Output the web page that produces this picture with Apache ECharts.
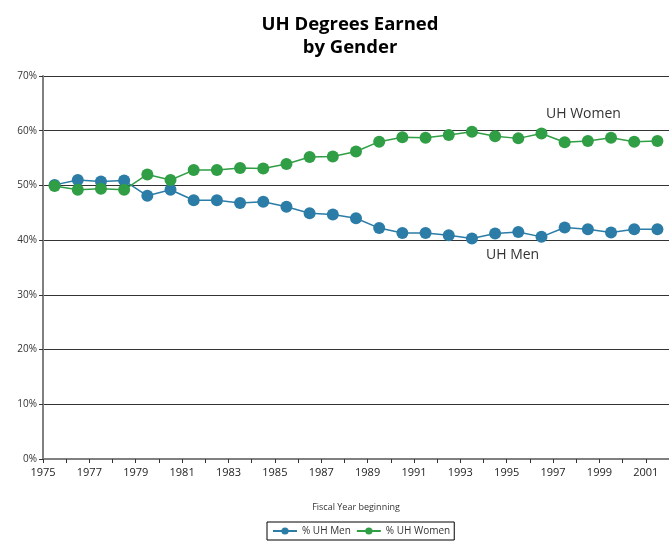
<!DOCTYPE html>
<html>
<head>
<meta charset="utf-8">
<script src="https://cdn.jsdelivr.net/npm/echarts@6/dist/echarts.min.js"></script>
<style>
  html, body { margin: 0; padding: 0; background: #fff; }
  #chart { width: 669px; height: 541px; }
</style>
</head>
<body>
<div id="chart"></div>
<script>
// fiscal years 1975..2001
var years = [1975, 1976, 1977, 1978, 1979, 1980, 1981, 1982, 1983, 1984, 1985, 1986, 1987, 1988,
  1989, 1990, 1991, 1992, 1993, 1994, 1995, 1996, 1997, 1998, 1999, 2000, 2001]
var menPct = [50.1, 51.0, 50.7, 50.9, 48.1, 49.2, 47.3, 47.3, 46.8, 47.0, 46.1, 44.9, 44.7, 44.0,
  42.2, 41.3, 41.3, 40.9, 40.3, 41.2, 41.5, 40.6, 42.3, 42.0, 41.4, 42.0, 42.0]
var womenPct = [49.9, 49.2, 49.4, 49.2, 52.0, 51.0, 52.8, 52.8, 53.2, 53.1, 53.9, 55.2, 55.3, 56.2,
  58.0, 58.8, 58.7, 59.2, 59.8, 59.0, 58.6, 59.5, 57.9, 58.1, 58.7, 58.0, 58.1]

var FONT = '"Open Sans", "DejaVu Sans", sans-serif'
var menColor = '#2b7ca6'
var womenColor = '#2f9e45'

// points sit in the middle of each fiscal year
function pairs (vals) {
  return years.map(function (y, i) { return [y + 0.5, vals[i]] })
}

var chart = echarts.init(document.getElementById('chart'))
chart.setOption({
  animation: false,
  textStyle: { fontFamily: FONT },
  title: {
    text: 'UH Degrees Earned\nby Gender',
    left: 345,
    textAlign: 'center',
    top: 8,
    textStyle: { fontFamily: FONT, fontSize: 18.5, fontWeight: 'bold', color: '#000', lineHeight: 23 }
  },
  grid: { left: 43, top: 76, width: 634.5, height: 383, containLabel: false },
  xAxis: {
    type: 'value',
    min: 1975,
    max: 2002,
    interval: 2,
    name: 'Fiscal Year beginning',
    nameLocation: 'middle',
    nameGap: 44,
    nameTextStyle: { fontSize: 9, color: '#333', fontFamily: FONT },
    axisLine: { lineStyle: { color: '#808080', width: 2 } },
    axisTick: { show: true, length: 4, lineStyle: { color: '#333' } },
    minorTick: { show: true, splitNumber: 2, length: 4, lineStyle: { color: '#333' } },
    splitLine: { show: false },
    axisLabel: { fontSize: 11, color: '#222', margin: 8, showMaxLabel: false,
      formatter: function (v) { return String(v) } }
  },
  yAxis: {
    type: 'value',
    min: 0,
    max: 70,
    interval: 10,
    axisLine: { show: true, lineStyle: { color: '#808080', width: 2 } },
    axisTick: { show: true, length: 4, lineStyle: { color: '#333' } },
    splitLine: { lineStyle: { color: '#333', width: 1 } },
    axisLabel: { fontSize: 10, color: '#333', margin: 6, formatter: '{value}%' }
  },
  legend: {
    bottom: 1,
    left: 267,
    padding: [4, 4, 4, 5],
    borderColor: '#000',
    borderWidth: 1,
    itemGap: 5,
    itemTextGap: 4,
    itemWidth: 24,
    itemHeight: 9,
    textStyle: { fontSize: 10, color: '#333', fontFamily: FONT },
    data: ['% UH Men', '% UH Women']
  },
  graphic: [
    { type: 'text', left: 546, top: 107, style: { text: 'UH Women', font: '14px ' + FONT, fill: '#333' } },
    { type: 'text', left: 486, top: 248, style: { text: 'UH Men', font: '14px ' + FONT, fill: '#333' } }
  ],
  series: [
    {
      name: '% UH Men',
      type: 'line',
      data: pairs(menPct),
      symbol: 'circle',
      symbolSize: 12,
      itemStyle: { color: menColor },
      lineStyle: { color: menColor, width: 1.5 },
      z: 3
    },
    {
      name: '% UH Women',
      type: 'line',
      data: pairs(womenPct),
      symbol: 'circle',
      symbolSize: 12,
      itemStyle: { color: womenColor },
      lineStyle: { color: womenColor, width: 1.5 },
      z: 4
    }
  ]
})
</script>
</body>
</html>
